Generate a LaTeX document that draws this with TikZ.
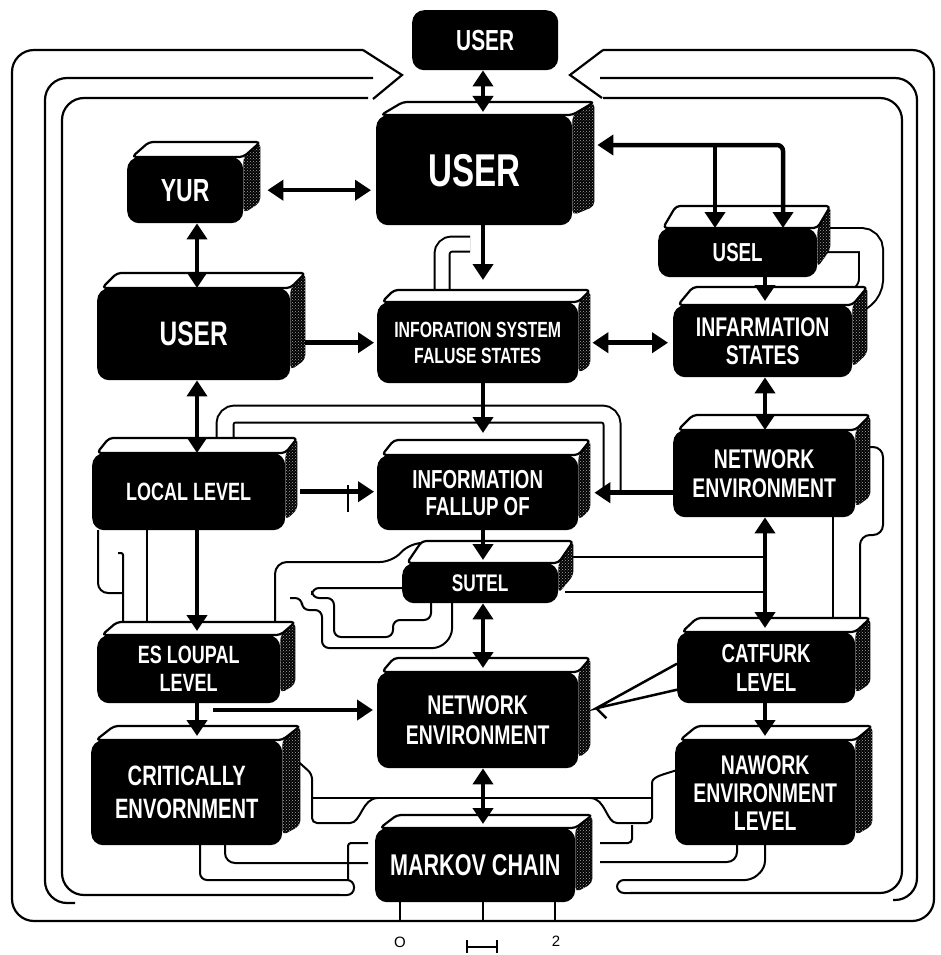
\documentclass[tikz,border=0pt]{standalone}
\usepackage{fontspec}
\newfontfamily\lbl{Liberation Sans}[FakeStretch=0.72]
\newfontfamily\plainf{Liberation Sans}
\usetikzlibrary{arrows.meta,patterns,calc}
\newcommand\fs[2]{\lbl\bfseries\fontsize{#1pt}{#2pt}\selectfont}
\newcommand\slab[3]{%
  \path[sideface] (#1.north east) -- ([xshift=#2pt,yshift=#3pt]#1.north east) -- ([xshift=#2pt,yshift=#3pt+6pt]#1.south east) -- ([yshift=10pt]#1.south east) -- cycle;
  \path[topface] ([xshift=5pt]#1.north west) -- ([xshift=#2pt+5pt,yshift=#3pt]#1.north west) -- ([xshift=#2pt,yshift=#3pt]#1.north east) -- (#1.north east) -- cycle;
}
\begin{document}
\begin{tikzpicture}[x=1pt,y=-1pt,
  box/.style={fill=black,text=white,rounded corners=12pt,anchor=north west,inner sep=0pt,align=center},
  arr/.style={line width=4.5pt,-{Triangle[width=20pt,length=16pt]}},
  dbl/.style={line width=4.5pt,{Triangle[width=20pt,length=16pt]}-{Triangle[width=20pt,length=16pt]}},
  frame/.style={line width=2.2pt,rounded corners=22pt},
  wire/.style={line width=2pt,rounded corners=10pt},
  pipe/.style={line width=2pt,double=white,rounded corners=10pt},
  sideface/.style={fill=black,postaction={pattern=crosshatch dots,pattern color=gray!70},rounded corners=5pt},
  topface/.style={fill=white,draw=black,line width=2.2pt,rounded corners=4pt,line join=round}]
\useasboundingbox (0,0) rectangle (940,955);
\fill[white] (0,0) rectangle (940,955);
% ---------- frames ----------
\draw[frame] (363,50) -- (12,50) -- (12,921) -- (934,921) -- (934,50) -- (603,50);
\draw[line width=2.2pt,line join=miter] (363,50) -- (402,75) -- (373,99);
\draw[line width=2.2pt,line join=miter] (603,50) -- (570,75) -- (602,98);
\draw[frame] (373,78) -- (45,78) -- (45,903) -- (75,903);
\draw[frame] (600,78) -- (917,78) -- (917,900) -- (893,900);
\draw[frame] (368,98) -- (62,98) -- (62,895) -- (340,895);
\draw[wire,rounded corners=7pt] (340,895) -- (354,895) -- (354,880) -- (200,880) -- (200,845);
\draw[wire] (225,845) -- (225,863) -- (368,863);
\draw[wire,rounded corners=3pt] (348,880) -- (348,843) -- (368,843);
\draw[frame] (603,98) -- (902,98) -- (902,893) -- (630,893);
\draw[wire,rounded corners=7pt] (630,893) -- (617,893) -- (617,880) -- (752,880) -- (765,868) -- (765,845);
\draw[wire] (737,845) -- (737,862) -- (600,862);
\draw[wire,rounded corners=4pt] (600,843) -- (632,843) -- (632,825);
% ---------- pipes and wires ----------
\draw[pipe,double distance=13pt] (442,292) -- (442,244) -- (470,244);
\draw[pipe,double distance=22pt] (826,240) -- (871,240) -- (871,290) -- (858,300);
\draw[pipe,double distance=15pt] (225,440) -- (225,414) -- (612,414) -- (612,490);
\draw[wire] (868,447) -- (883,447) -- (883,535) -- (860,535) -- (860,620);
\draw[wire] (833,515) -- (833,620);
\draw[wire] (98,530) -- (98,593) -- (123,593);
\draw[wire,rounded corners=2pt] (118,553) -- (123,553) -- (123,622);
\draw[wire] (147,530) -- (147,622);
\draw[line width=1.2pt] (348,485) -- (348,512);
\draw[wire,rounded corners=12pt] (275,622) -- (275,562) -- (392,562) -- (410,543) -- (470,543);
\draw[wire,rounded corners=7pt] (402,588) -- (312,588) -- (312,598) -- (334,598) -- (334,637) -- (393,637) -- (393,620) -- (431,620) -- (431,603);
\draw[wire,rounded corners=7pt] (290,598) -- (302,598) -- (302,610) -- (322,610) -- (322,648) -- (440,648) -- (452,636) -- (452,603);
\draw[wire] (565,557) -- (765,557);
\draw[wire] (565,592) -- (765,592);
\draw[wire,rounded corners=5pt] (293,757) -- (312,774) -- (312,823) -- (345,823) to[out=0,in=180] (378,798);
\draw[wire,rounded corners=0pt] (312,798) -- (652,798);
\draw[wire,rounded corners=5pt] (590,798) to[out=0,in=180] (622,823) -- (652,823) -- (652,788) to[out=90,in=200] (677,770);
% ---------- boxes ----------
\node[box,minimum width=146pt,minimum height=60pt,font=\fs{29}{31}] (utop) at (412,10) {USER};
\node[box,minimum width=196pt,minimum height=110pt,font=\fs{46}{48}] (ubig) at (376,115) {USER};
\slab{ubig}{22}{13}
\node[box,minimum width=116pt,minimum height=66pt,font=\fs{32}{34}] (yur) at (127,157) {YUR};
\slab{yur}{17}{15}
\node[box,minimum width=193pt,minimum height=92pt,font=\fs{34}{36}] (umid) at (97,288) {USER};
\slab{umid}{15}{15}
\node[box,minimum width=201pt,minimum height=81pt,font=\fs{22}{26}] (infsys) at (377,302) {INFORATION SYSTEM\\FALUSE STATES};
\slab{infsys}{12}{12}
\node[box,minimum width=159pt,minimum height=49pt,font=\fs{26}{28}] (usel) at (658,228) {USEL};
\slab{usel}{13}{22}
\node[box,minimum width=179pt,minimum height=72pt,font=\fs{27}{28}] (infst) at (673,305) {INFARMATION\\STATES};
\slab{infst}{15}{18}
\node[box,minimum width=193pt,minimum height=77pt,font=\fs{25}{27}] (local) at (92,453) {LOCAL LEVEL};
\slab{local}{12}{15}
\node[box,minimum width=201pt,minimum height=75pt,font=\fs{26}{27}] (infall) at (377,455) {INFORMATION\\FALLUP OF};
\slab{infall}{12}{15}
\node[box,minimum width=182pt,minimum height=87pt,font=\fs{27}{29}] (netr) at (673,430) {NETWORK\\ENVIRONMENT};
\slab{netr}{15}{15}
\node[box,minimum width=156pt,minimum height=40pt,font=\fs{24}{26}] (sutel) at (402,563) {SUTEL};
\slab{sutel}{15}{22}
\node[box,minimum width=183pt,minimum height=68pt,font=\fs{25}{28}] (esl) at (97,635) {ES LOUPAL\\LEVEL};
\slab{esl}{15}{13}
\node[box,minimum width=201pt,minimum height=96pt,font=\fs{27}{30}] (netc) at (377,672) {NETWORK\\ENVIRONMENT};
\slab{netc}{12}{14}
\node[box,minimum width=178pt,minimum height=71pt,font=\fs{26}{29}] (catf) at (677,632) {CATFURK\\LEVEL};
\slab{catf}{15}{14}
\node[box,minimum width=191pt,minimum height=105pt,font=\fs{28}{33}] (crit) at (91,740) {CRITICALLY\\ENVORNMENT};
\slab{crit}{18}{14}
\node[box,minimum width=180pt,minimum height=105pt,font=\fs{27}{28}] (naw) at (675,740) {NAWORK\\ENVIRONMENT\\LEVEL};
\slab{naw}{17}{14}
\node[box,minimum width=200pt,minimum height=74pt,font=\fs{30}{32}] (markov) at (375,828) {MARKOV CHAIN};
\slab{markov}{17}{13}
% ---------- connectors ----------
\coordinate (c483) at (483,0);
\coordinate (c197) at (197,0);
\coordinate (c765) at (765,0);
\coordinate (brL) at (715,145);
\coordinate (brR) at (783,145);
\coordinate (a19) at (213,710);
\draw[dbl] (utop.south -| c483) -- ($(ubig.north -| c483)+(0,-3)$);
\draw[dbl] ($(yur.east)+(24,0)$) -- ($(yur.east -| ubig.west)+(-5,0)$);
\draw[arr] (ubig.south -| c483) -- ($(infsys.north -| c483)+(0,-22)$);
\draw[dbl,rounded corners=6pt] (brR |- usel.north) -- (brR) -- ($(brR -| ubig.east)+(25,0)$);
\draw[arr] (brL) -- (brL |- usel.north);
\draw[dbl] (yur.south -| c197) -- (umid.north -| c197);
\draw[arr] ($(umid.east |- infsys.west)+(15,0)$) -- ($(infsys.west)+(-3,0)$);
\draw[dbl] ($(infsys.east)+(14,0)$) -- ($(infsys.east -| infst.west)+(-5,0)$);
\draw[arr] (usel.south -| c765) -- ($(infst.north -| c765)+(0,-4)$);
\draw[arr] (infsys.south -| c483) -- ($(infall.north -| c483)+(0,-22)$);
\draw[dbl] (umid.south -| c197) -- (local.north -| c197);
\draw[dbl] (infst.south -| c765) -- (netr.north -| c765);
\draw[arr] ($(local.east)+(15,0)$) -- ($(local.east -| infall.west)+(-3,0)$);
\draw[arr] (netr.west |- infall.east) -- ($(infall.east)+(16,0)$);
\draw[arr] (infall.south -| c483) -- ($(sutel.north -| c483)+(0,-3)$);
\draw[dbl] (sutel.south -| c483) -- ($(netc.north -| c483)+(0,-4)$);
\draw[dbl] (netr.south -| c765) -- ($(catf.north -| c765)+(0,-4)$);
\draw[arr] (local.south -| c197) -- ($(esl.north -| c197)+(0,-4)$);
\draw[arr] (esl.south -| c197) -- ($(crit.north -| c197)+(0,-4)$);
\draw[arr] (a19) -- ($(a19 -| netc.west)+(-4,0)$);
\draw[line width=2.5pt,line join=miter] ($(catf.west)+(0,-4)$) -- ($(netc.east)+(18,-12)$) -- ($(catf.west)+(0,22)$);
\draw[line width=2.5pt] ($(netc.east)+(18,-12)$) -- ($(netc.east)+(28,-2)$);
\draw[arr] (catf.south -| c765) -- ($(naw.north -| c765)+(0,-4)$);
\draw[dbl] (netc.south -| c483) -- ($(markov.north -| c483)+(0,-4)$);
% ---------- bottom ticks ----------
\coordinate (m0) at (400,921);
\coordinate (m1) at (483,921);
\coordinate (m2) at (555,921);
\draw[line width=1.8pt] (markov.south -| m0) -- (m0);
\draw[line width=1.8pt] (markov.south -| m1) -- (m1);
\draw[line width=1.8pt] (markov.south -| m2) -- (m2);
\node[font=\plainf\fontsize{15pt}{15pt}\selectfont,inner sep=0pt] (t0) at (400,942) {O};
\node[font=\plainf\fontsize{15pt}{15pt}\selectfont,inner sep=0pt] (t2) at (556,941) {2};
\draw[line width=1.5pt] (467,940) -- (467,953) (467,947) -- (497,947) (497,940) -- (497,953);
\end{tikzpicture}
\end{document}
